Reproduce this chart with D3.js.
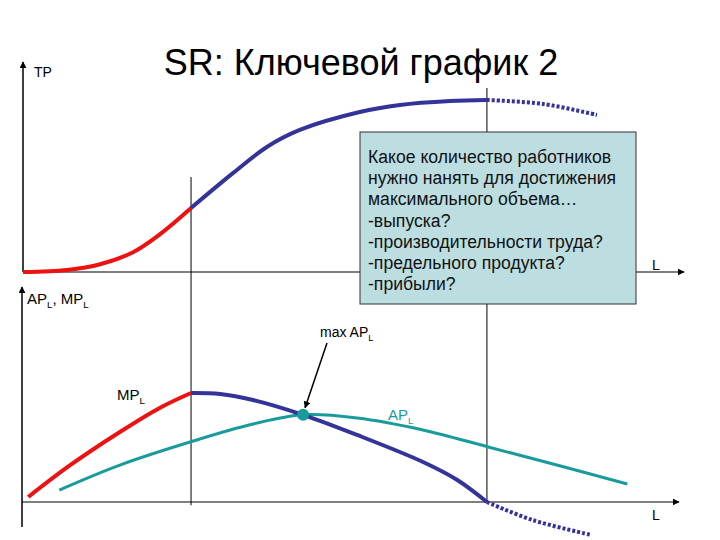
<!DOCTYPE html>
<html>
<head>
<meta charset="utf-8">
<script src="https://cdn.jsdelivr.net/npm/d3@7"></script>
<style>
  body { margin: 0; background: #fff; }
  text { font-family: Arial, "Liberation Sans", sans-serif; }
</style>
</head>
<body>
<div id="chart"></div>
<script>
// Values. L runs 0..100, TP and AP/MP in 0..100 units.
const tpRising   = [[0, 0], [6.7, 1.2], [11.7, 4.5], [16.7, 11.5], [20.8, 22.0], [25.5, 37.2]];
const tpSlowing  = [[25.5, 37.2], [31.9, 57.6], [37.0, 72.7], [42.0, 82.6], [51.1, 93.0], [57.2, 97.1], [64.8, 99.4], [70.4, 100]];
const tpFalling  = [[70.4, 100], [78.9, 97.7], [87.1, 91.3]];

const mpRising   = [[0.8, 4.6], [7.1, 33.5], [14.7, 64.2], [20.8, 86.5], [25.5, 100]];
const mpFalling  = [[25.5, 100], [29.9, 99.1], [34.9, 93.6], [42.5, 80.0], [50.7, 61.5], [60.7, 36.7], [65.9, 20.2], [70.4, 0]];
const mpNegative = [[70.4, 0], [77.3, -16.5], [86.3, -30.3]];

const apCurve    = [[5.5, 11.0], [14.7, 33.9], [25.6, 55.5], [34.9, 71.5], [42.5, 80.0], [50.7, 77.1], [60.7, 66.1], [70.6, 50.5], [81.0, 33.9], [91.7, 16.5]];
const maxAP      = [42.5, 80.0];

// L of inflection point (max MP) and of max TP
const keyL = [25.5, 70.4];

const titleText = "SR: Ключевой график 2";
const questionLines = [
  "Какое количество работников",
  "нужно нанять для достижения",
  "максимального объема…",
  "-выпуска?",
  "-производительности труда?",
  "-предельного продукта?",
  "-прибыли?"
];

const width = 720;
const height = 540;

const red = "#ee1111";
const navy = "#333399";
const teal = "#1a9b9b";

const x = d3.scaleLinear().domain([0, 100]).range([23, 682]);
const yTop = d3.scaleLinear().domain([0, 100]).range([272, 100]);
const yBot = d3.scaleLinear().domain([0, 100]).range([502, 393]);

const svg = d3.select("#chart")
  .append("svg")
  .attr("width", width)
  .attr("height", height)
  .attr("viewBox", [0, 0, width, height]);

svg.append("defs").append("marker")
  .attr("id", "arrow")
  .attr("viewBox", "0 0 10 10")
  .attr("refX", 9).attr("refY", 5)
  .attr("markerWidth", 7).attr("markerHeight", 7)
  .attr("markerUnits", "userSpaceOnUse")
  .attr("orient", "auto")
  .append("path")
  .attr("d", "M0,0L10,5L0,10Z")
  .attr("fill", "#000");

// Title
svg.append("text")
  .attr("x", 361)
  .attr("y", 75)
  .attr("text-anchor", "middle")
  .attr("font-size", 36)
  .attr("fill", "#000")
  .text(titleText);

// Vertical guide lines (through both panels)
svg.append("line")
  .attr("x1", x(keyL[0])).attr("x2", x(keyL[0]))
  .attr("y1", 177).attr("y2", yBot(-3))
  .attr("stroke", "#000").attr("stroke-width", 1);
svg.append("line")
  .attr("x1", x(keyL[1])).attr("x2", x(keyL[1]))
  .attr("y1", 88).attr("y2", yBot(0))
  .attr("stroke", "#000").attr("stroke-width", 1);

// Axes - top panel
svg.append("line")
  .attr("x1", x(0)).attr("x2", x(0))
  .attr("y1", yTop(0)).attr("y2", 62)
  .attr("stroke", "#000").attr("stroke-width", 1.5)
  .attr("marker-end", "url(#arrow)");
svg.append("line")
  .attr("x1", x(0)).attr("x2", 684)
  .attr("y1", yTop(0)).attr("y2", yTop(0))
  .attr("stroke", "#000").attr("stroke-width", 1.2)
  .attr("marker-end", "url(#arrow)");

// Axes - bottom panel
svg.append("line")
  .attr("x1", x(0) - 1).attr("x2", x(0) - 1)
  .attr("y1", yBot(-23)).attr("y2", 287)
  .attr("stroke", "#000").attr("stroke-width", 1.5)
  .attr("marker-end", "url(#arrow)");
svg.append("line")
  .attr("x1", x(0) - 1).attr("x2", 679)
  .attr("y1", yBot(0)).attr("y2", yBot(0))
  .attr("stroke", "#000").attr("stroke-width", 1.2)
  .attr("marker-end", "url(#arrow)");

const lineTop = d3.line()
  .x(d => x(d[0]))
  .y(d => yTop(d[1]))
  .curve(d3.curveCatmullRom.alpha(0.5));

const lineBot = d3.line()
  .x(d => x(d[0]))
  .y(d => yBot(d[1]))
  .curve(d3.curveCatmullRom.alpha(0.5));

// TP
svg.append("path").datum(tpRising)
  .attr("d", lineTop).attr("fill", "none")
  .attr("stroke", red).attr("stroke-width", 4);
svg.append("path").datum(tpSlowing)
  .attr("d", lineTop).attr("fill", "none")
  .attr("stroke", navy).attr("stroke-width", 4);
svg.append("path").datum(tpFalling)
  .attr("d", lineTop).attr("fill", "none")
  .attr("stroke", navy).attr("stroke-width", 4)
  .attr("stroke-dasharray", "3,2");

// AP
svg.append("path").datum(apCurve)
  .attr("d", lineBot).attr("fill", "none")
  .attr("stroke", teal).attr("stroke-width", 3);

// MP
svg.append("path").datum(mpRising)
  .attr("d", lineBot).attr("fill", "none")
  .attr("stroke", red).attr("stroke-width", 4);
svg.append("path").datum(mpFalling)
  .attr("d", lineBot).attr("fill", "none")
  .attr("stroke", navy).attr("stroke-width", 4);
svg.append("path").datum(mpNegative)
  .attr("d", lineBot).attr("fill", "none")
  .attr("stroke", navy).attr("stroke-width", 4)
  .attr("stroke-dasharray", "3,2");

// max AP point
svg.append("circle")
  .attr("cx", x(maxAP[0])).attr("cy", yBot(maxAP[1]))
  .attr("r", 6).attr("fill", teal);

// annotation arrow
svg.append("line")
  .attr("x1", 327).attr("y1", 343)
  .attr("x2", x(maxAP[0]) + 2).attr("y2", yBot(maxAP[1]) - 7)
  .attr("stroke", "#000").attr("stroke-width", 1.5)
  .attr("marker-end", "url(#arrow)");

// Labels with subscripts
function subLabel(px, py, main, sub, color, size, rest) {
  const t = svg.append("text")
    .attr("x", px).attr("y", py)
    .attr("font-size", size)
    .attr("fill", color);
  t.append("tspan").text(main);
  t.append("tspan").attr("font-size", size * 0.65).attr("dy", 4).text(sub);
  if (rest) {
    t.append("tspan").attr("dy", -4).text(rest[0]);
    t.append("tspan").attr("font-size", size * 0.65).attr("dy", 4).text(rest[1]);
  }
  return t;
}

svg.append("text").attr("x", 34).attr("y", 77)
  .attr("font-size", 14).text("TP");
subLabel(27, 304, "AP", "L", "#000", 15, [", MP", "L"]);
svg.append("text").attr("x", 652).attr("y", 270)
  .attr("font-size", 14).text("L");
svg.append("text").attr("x", 652).attr("y", 520)
  .attr("font-size", 14).text("L");
subLabel(320, 337, "max AP", "L", "#000", 14);
subLabel(117, 400, "MP", "L", "#000", 15);
subLabel(388, 420, "AP", "L", teal, 15);

// Question box
const box = svg.append("g").attr("transform", "translate(360,132)");
box.append("rect")
  .attr("width", 276).attr("height", 172)
  .attr("fill", "#bcdee1")
  .attr("stroke", "#333").attr("stroke-width", 1);
box.selectAll("text")
  .data(questionLines)
  .join("text")
  .attr("x", 8)
  .attr("y", (d, i) => 31 + i * 21.2)
  .attr("font-size", 17.6)
  .attr("fill", "#111")
  .text(d => d);
</script>
</body>
</html>
